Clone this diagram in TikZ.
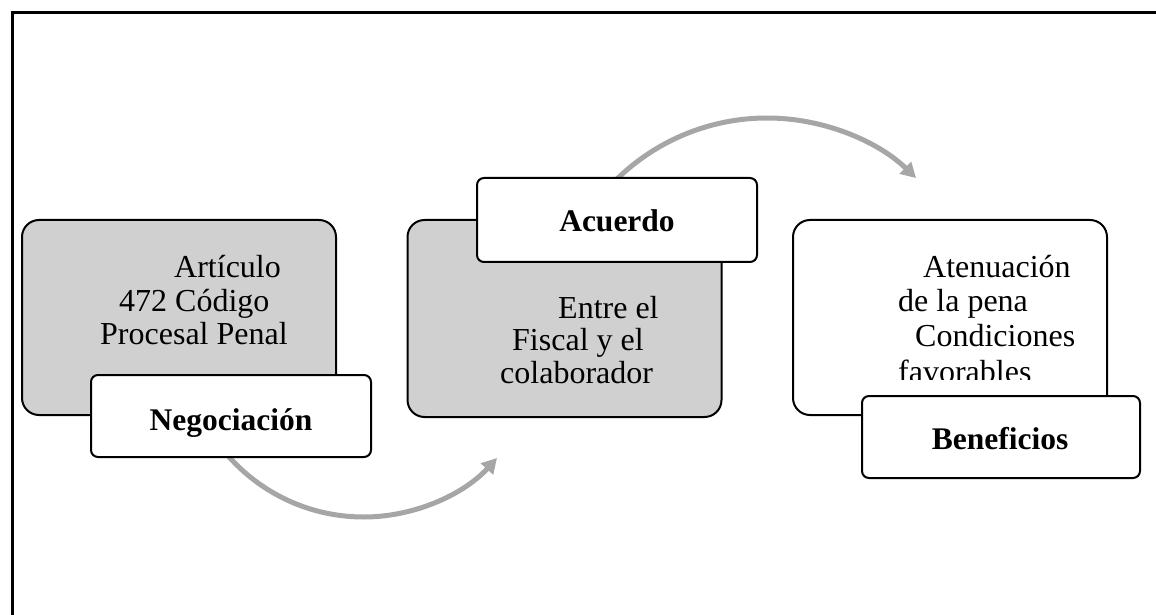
\documentclass[tikz,border=0pt]{standalone}
\usepackage{fontspec}
\setmainfont{Liberation Serif}
\usetikzlibrary{arrows.meta}
\definecolor{boxgray}{HTML}{D0D0D0}
\definecolor{arrowgray}{HTML}{A6A6A6}
\begin{document}
\begin{tikzpicture}[x=1pt,y=1pt,
  bigbox/.style={draw=black, line width=2pt, rounded corners=17pt, inner sep=0pt, minimum width=314pt},
  tagbox/.style={draw=black, fill=white, line width=2pt, rounded corners=7pt, inner sep=0pt, minimum width=280pt},
  bodytext/.style={anchor=base west, inner sep=0pt, font=\fontsize{32}{34}\selectfont},
  tagtext/.style={anchor=base, inner sep=0pt, font=\fontsize{31.5}{34}\selectfont\bfseries},
  flow/.style={draw=arrowgray, line width=5pt, -{Triangle[length=15pt,width=16pt]}}
]
\useasboundingbox (0,0) rectangle (1156,614);
\fill[white] (0,0) rectangle (1156,614);
% frame
\coordinate (fbl) at (12,-2);
\coordinate (ftl) at (12,601);
\coordinate (ftr) at (1160,601);
\draw[line width=3pt] (fbl) -- (ftl) -- (ftr);
% arcs
\coordinate (c1) at (363.5,277.5);
\draw[flow] (c1) ++(215:180.5) arc[start angle=215, end angle=317.7, radius=180.5];
\coordinate (c2) at (767,281);
\draw[flow] (c2) ++(145:215) arc[start angle=145, end angle=46.1, radius=215];
% box 1
\node[bigbox, fill=boxgray, minimum height=195pt] (b1) at (179,296.5) {};
\node[bodytext] (t11) at (174,336) {Artículo};
\node[bodytext] (t12) at (119,303) {472 Código};
\node[bodytext] (t13) at (100,270) {Procesal Penal};
\node[tagbox, minimum height=82pt] (neg) at (231,198) {};
\node[tagtext] (negt) at (231,184) {Negociación};
% box 2
\node[bigbox, fill=boxgray, minimum height=197pt] (b2) at (564.5,295.5) {};
\node[bodytext] (t21) at (558,296) {Entre el};
\node[bodytext] (t22) at (512,264) {Fiscal y el};
\node[bodytext] (t23) at (500,231) {colaborador};
\node[tagbox, minimum height=84pt] (acu) at (617,394) {};
\node[tagtext] (acut) at (617,382) {Acuerdo};
% box 3
\node[bigbox, fill=white, minimum height=195pt] (b3) at (950,296.5) {};
\begin{scope}
\clip (795,235) rectangle (1105,392);
\node[bodytext] (t31) at (923,337) {Atenuación};
\node[bodytext] (t32) at (898,302) {de la pena};
\node[bodytext] (t33) at (915,268) {Condiciones};
\node[bodytext] (t34) at (898,232) {favorables};
\end{scope}
\node[tagbox, minimum width=278pt, minimum height=82pt] (ben) at (1001,177) {};
\node[tagtext] (bent) at (1000,165) {Beneficios};
\end{tikzpicture}
\end{document}
